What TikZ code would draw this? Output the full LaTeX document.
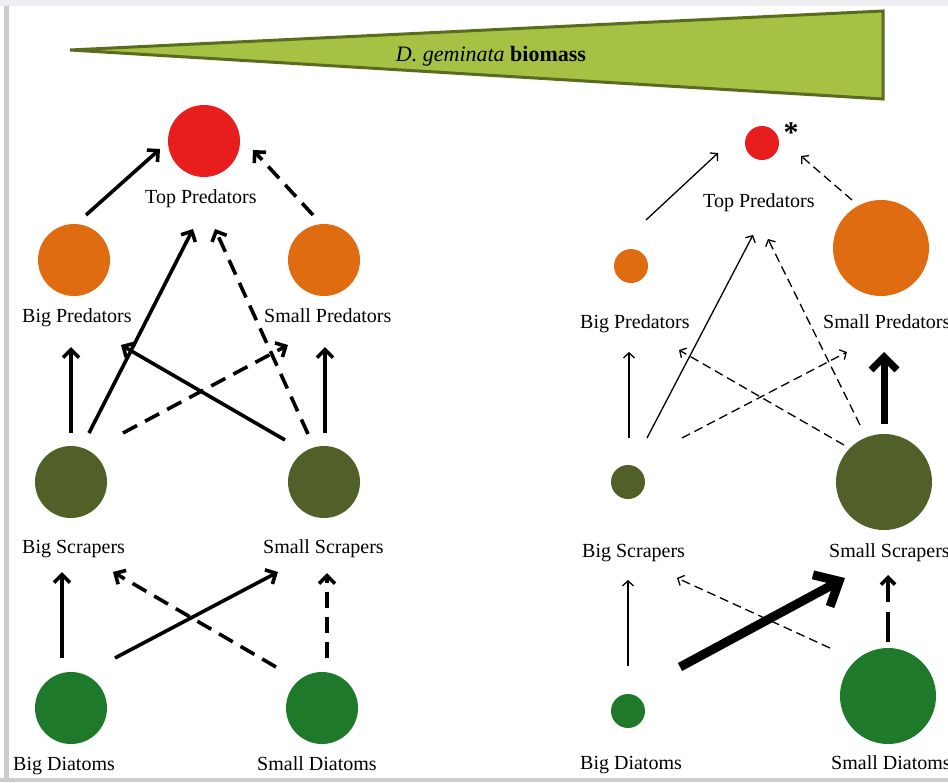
\documentclass[tikz,border=0pt]{standalone}
\usepackage{fontspec}
\setmainfont{Liberation Serif}
\usetikzlibrary{arrows.meta}
\definecolor{tpred}{RGB}{232,30,30}
\definecolor{pred}{RGB}{224,108,18}
\definecolor{scr}{RGB}{80,96,40}
\definecolor{dia}{RGB}{30,122,42}
\definecolor{trifill}{RGB}{166,194,68}
\definecolor{triedge}{RGB}{90,108,32}
\definecolor{frametop}{RGB}{236,238,241}
\definecolor{frameside}{RGB}{204,204,204}
\tikzset{
  circ/.style={circle, inner sep=0pt, minimum size=#1},
  lbl/.style={anchor=base west, inner sep=0pt, font=\fontsize{20}{24}\selectfont},
  thickarr/.style={line width=3.6pt, -{Straight Barb[length=8pt,width=16pt]}},
  thickdash/.style={thickarr, dash pattern=on 16pt off 9pt},
  thinarr/.style={line width=1.3pt, -{Straight Barb[length=5pt,width=11pt]}},
  thindash/.style={thinarr, dash pattern=on 9pt off 5pt},
  port/.style={shift={#1}}
}
\begin{document}
\begin{tikzpicture}[x=1pt,y=-1pt]
\useasboundingbox (0,0) rectangle (948,782);
\fill[white] (0,0) rectangle (948,782);
% frame
\fill[frametop] (0,0) rectangle (948,6);
\fill[frameside] (4,6) rectangle (9,782);
\fill[frameside] (0,778) rectangle (948,782);
% biomass wedge
\draw[line width=3pt, draw=triedge, fill=trifill, line join=miter] (70,50) -- (883,11) -- (883,99) -- cycle;
\node[font=\fontsize{22}{26}\selectfont] (title) at (491,56) {\textit{D. geminata} \textbf{biomass}};

% ---------- left network ----------
\node[circ=72pt, fill=tpred] (tpL) at (204,141) {};
\node[circ=72pt, fill=pred] (bpL) at (74,260) {};
\node[circ=72pt, fill=pred] (spL) at (324,260) {};
\node[circ=72pt, fill=scr] (bsL) at (71,482) {};
\node[circ=72pt, fill=scr] (ssL) at (324,482) {};
\node[circ=72pt, fill=dia] (bdL) at (71,708) {};
\node[circ=72pt, fill=dia] (sdL) at (322,708) {};
\node[lbl] (tpLl) at (145,203) {Top Predators};
\node[lbl] (bpLl) at (22,322) {Big Predators};
\node[lbl] (spLl) at (264,322) {Small Predators};
\node[lbl] (bsLl) at (22,553) {Big Scrapers};
\node[lbl] (ssLl) at (263,553) {Small Scrapers};
\node[lbl] (bdLl) at (13,770) {Big Diatoms};
\node[lbl] (sdLl) at (257,770) {Small Diatoms};

\draw[thickarr]  ([port={(12,-45)}]bpL.center) -- ([port={(-44,8)}]tpL.center);
\draw[thickdash] ([port={(-11,-45)}]spL.center) -- ([port={(49,9)}]tpL.center);
\draw[thickarr]  ([port={(18,-49)}]bsL.center) -- ([port={(-11,88)}]tpL.center);
\draw[thickdash] ([port={(-16,-48)}]ssL.center) -- ([port={(11,88)}]tpL.center);
\draw[thickarr]  ([port={(-39,-42)}]ssL.center) -- ([port={(47,85)}]bpL.center);
\draw[thickdash] ([port={(52,-49)}]bsL.center) -- ([port={(-36,85)}]spL.center);
\draw[thickarr]  ([port={(0,-49)}]bsL.center) -- ([port={(-3,87)}]bpL.center);
\draw[thickarr]  ([port={(1,-49)}]ssL.center) -- ([port={(1,87)}]spL.center);
\draw[thickarr]  ([port={(-9,-50)}]bdL.center) -- ([port={(-9,90)}]bsL.center);
\draw[thickdash] ([port={(5,-50)}]sdL.center) -- ([port={(3,91)}]ssL.center);
\draw[thickarr]  ([port={(44,-50)}]bdL.center) -- ([port={(-46,90)}]ssL.center);
\draw[thickdash] ([port={(-46,-41)}]sdL.center) -- ([port={(42,90)}]bsL.center);

% ---------- right network ----------
\node[circ=34pt, fill=tpred] (tpR) at (762,143) {};
\node[circ=34pt, fill=pred] (bpR) at (631,266) {};
\node[circ=96pt, fill=pred] (spR) at (881,248) {};
\node[circ=34pt, fill=scr] (bsR) at (628,482) {};
\node[circ=96pt, fill=scr] (ssR) at (884,482) {};
\node[circ=34pt, fill=dia] (bdR) at (628,711) {};
\node[circ=96pt, fill=dia] (sdR) at (888,696) {};
\node[inner sep=0pt, font=\fontsize{30}{30}\selectfont\bfseries] (ast) at (791,133) {*};
\node[lbl] (tpRl) at (703,207) {Top Predators};
\node[lbl] (bpRl) at (580,328) {Big Predators};
\node[lbl] (spRl) at (823,328) {Small Predators};
\node[lbl] (bsRl) at (582,557) {Big Scrapers};
\node[lbl] (ssRl) at (829,557) {Small Scrapers};
\node[lbl] (bdRl) at (580,769) {Big Diatoms};
\node[lbl] (sdRl) at (831,769) {Small Diatoms};

\draw[thinarr]  ([port={(15,-46)}]bpR.center) -- ([port={(-44,10)}]tpR.center);
\draw[thindash] ([port={(-29,-48)}]spR.center) -- ([port={(39,13)}]tpR.center);
\draw[thinarr]  ([port={(19,-44)}]bsR.center) -- ([port={(-9,92)}]tpR.center);
\draw[thindash] ([port={(-24,-57)}]ssR.center) -- ([port={(6,96)}]tpR.center);
\draw[thinarr]  ([port={(1,-44)}]bsR.center) -- ([port={(-2,86)}]bpR.center);
\draw[line width=7pt, -{Straight Barb[length=13pt,width=26pt]}] ([port={(0,-58)}]ssR.center) -- ([port={(3,104)}]spR.center);
\draw[thindash] ([port={(-40,-37)}]ssR.center) -- ([port={(48,84)}]bpR.center);
\draw[thindash] ([port={(54,-44)}]bsR.center) -- ([port={(-34,104)}]spR.center);
\draw[thinarr]  ([port={(0,-45)}]bdR.center) -- ([port={(0,98)}]bsR.center);
\draw[line width=3.6pt, dash pattern=on 30pt off 10pt, -{Straight Barb[length=7pt,width=14pt]}] ([port={(0,-54)}]sdR.center) -- ([port={(4,93)}]ssR.center);
\draw[line width=9pt, -{Straight Barb[length=20pt,width=36pt]}] ([port={(52,-44)}]bdR.center) -- ([port={(-39,96)}]ssR.center);
\draw[thindash] ([port={(-58,-48)}]sdR.center) -- ([port={(49,96)}]bsR.center);
\end{tikzpicture}
\end{document}
